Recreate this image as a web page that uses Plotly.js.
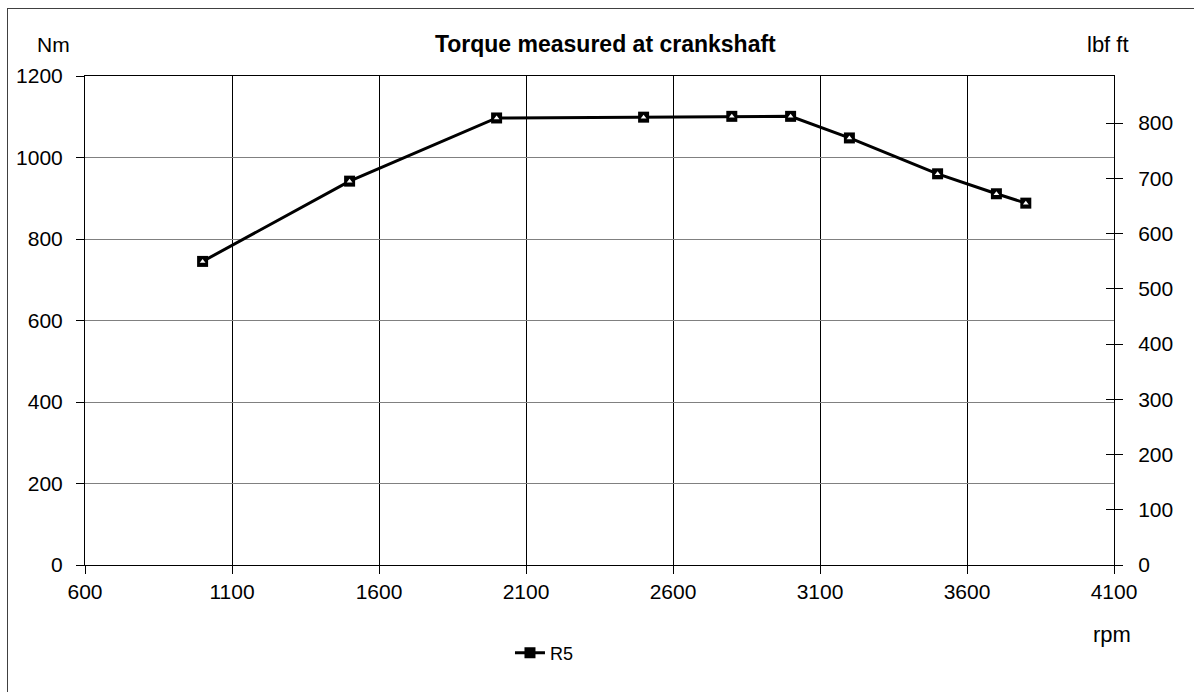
<!DOCTYPE html>
<html>
<head>
<meta charset="utf-8">
<script src="https://cdn.plot.ly/plotly-3.0.1.min.js"></script>
<style>
  html, body { margin: 0; padding: 0; background: #fff; }
  #wrap { position: relative; width: 1194px; height: 692px; overflow: hidden; }
  #chart { position: absolute; left: 0; top: 0; width: 1194px; height: 692px; }
  #frame { position: absolute; left: 7px; top: 8px; width: 1300px; height: 800px;
           border-left: 1px solid #404040; border-top: 1px solid #404040; pointer-events: none; }
</style>
</head>
<body>
<div id="wrap">
  <div id="chart"></div>
  <div id="frame"></div>
</div>
<script>
// Data
const rpm = [1000, 1500, 2000, 2500, 2800, 3000, 3200, 3500, 3700, 3800];
const torqueNm = [745, 942, 1097, 1099, 1101, 1101, 1048, 960, 911, 888];
const seriesName = 'R5';
const NM_TO_LBFFT = 0.73756;
const torqueLbf = torqueNm.map(v => v * NM_TO_LBFFT);

const font = 'Liberation Sans, Arial, sans-serif';

const traces = [
  {
    x: rpm, y: torqueNm, name: seriesName, type: 'scatter', mode: 'lines+markers',
    line: {color: '#000', width: 3},
    marker: {symbol: 'square', size: 11, color: '#000'},
    showlegend: true, hoverinfo: 'x+y'
  },
  {
    x: rpm, y: torqueNm, type: 'scatter', mode: 'markers',
    marker: {symbol: 'triangle-up', size: 5, color: '#fff'},
    showlegend: false, hoverinfo: 'skip'
  },
  {
    x: rpm, y: torqueLbf, yaxis: 'y2', type: 'scatter', mode: 'markers',
    marker: {opacity: 0}, showlegend: false, hoverinfo: 'skip'
  },
  {
    x: rpm, y: torqueLbf, yaxis: 'y3', type: 'scatter', mode: 'markers',
    marker: {opacity: 0}, showlegend: false, hoverinfo: 'skip'
  }
];

const layout = {
  width: 1194, height: 692,
  margin: {l: 85, r: 80, t: 76, b: 127},
  paper_bgcolor: '#fff', plot_bgcolor: '#fff',
  font: {family: font, color: '#000', size: 21},
  title: {
    text: '<b>Torque measured at crankshaft</b>',
    font: {family: font, size: 23, color: '#000'},
    x: 0.507, xanchor: 'center', y: 0.936, yanchor: 'middle'
  },
  xaxis: {
    range: [600, 4100], tick0: 600, dtick: 500, tickmode: 'linear',
    showgrid: true, gridcolor: '#000', gridwidth: 1,
    showline: true, linecolor: '#000', linewidth: 1, mirror: true,
    ticks: 'outside', ticklen: 8, tickcolor: '#000',
    tickfont: {family: font, size: 21}, zeroline: false
  },
  yaxis: {
    range: [0, 1200], tick0: 0, dtick: 200, tickmode: 'linear',
    showgrid: true, gridcolor: '#808080', gridwidth: 1,
    showline: true, linecolor: '#000', linewidth: 1, mirror: true,
    ticks: 'outside', ticklen: 8, tickcolor: '#000', ticklabelstandoff: 9,
    tickfont: {family: font, size: 21}, zeroline: false
  },
  yaxis2: {
    overlaying: 'y', side: 'right',
    range: [0, 1200 * NM_TO_LBFFT], tick0: 0, dtick: 100, tickmode: 'linear',
    showgrid: false, zeroline: false,
    showline: true, linecolor: '#000', linewidth: 1,
    ticks: 'outside', ticklen: 8, tickcolor: '#000', ticklabelstandoff: 11,
    tickfont: {family: font, size: 21}
  },
  yaxis3: {
    overlaying: 'y', side: 'right', anchor: 'x',
    range: [0, 1200 * NM_TO_LBFFT], tick0: 0, dtick: 100, tickmode: 'linear',
    showgrid: false, zeroline: false, showline: false,
    ticks: 'inside', ticklen: 8, tickcolor: '#000', showticklabels: false
  },
  legend: {
    orientation: 'h', x: 0.413, xanchor: 'left', y: -0.18, yanchor: 'middle',
    font: {family: font, size: 18}, bgcolor: 'rgba(0,0,0,0)'
  },
  annotations: [
    {text: 'Nm', xref: 'paper', yref: 'paper', x: -0.031, y: 1.065,
     showarrow: false, xanchor: 'center', yanchor: 'middle', font: {family: font, size: 21}},
    {text: 'lbf ft', xref: 'paper', yref: 'paper', x: 0.994, y: 1.065,
     showarrow: false, xanchor: 'center', yanchor: 'middle', font: {family: font, size: 22}},
    {text: 'rpm', xref: 'paper', yref: 'paper', x: 0.998, y: -0.143,
     showarrow: false, xanchor: 'center', yanchor: 'middle', font: {family: font, size: 22}}
  ],
  showlegend: true
};

Plotly.newPlot('chart', traces, layout, {displayModeBar: false, staticPlot: true});
</script>
</body>
</html>
